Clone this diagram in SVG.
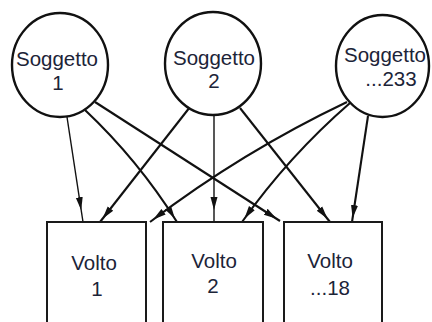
<svg xmlns="http://www.w3.org/2000/svg" width="432" height="322" viewBox="0 0 432 322">
  <style>
    .node { fill: #ffffff; stroke: #111111; stroke-width: 2.4; }
    .box { fill: #ffffff; stroke: #1a1a1a; stroke-width: 2; }
    .lbl { font-family: "Liberation Sans", "Open Sans", sans-serif; font-size: 20.5px; fill: #1c2438; text-anchor: middle; }
    .edge { fill: none; stroke: #111111; stroke-width: 2.1; marker-end: url(#ah); }
    .edgev { fill: none; stroke: #111111; stroke-width: 1.4; marker-end: url(#ahv); }
  </style>
  <defs>
    <marker id="ah" markerUnits="userSpaceOnUse" markerWidth="20" markerHeight="12" viewBox="0 0 20 12" refX="17" refY="6" orient="auto">
      <path d="M0,2.5 L13,6 L0,9.5 Z" fill="#111111"/>
    </marker>
    <marker id="ahv" markerUnits="userSpaceOnUse" markerWidth="28" markerHeight="12" viewBox="0 0 28 12" refX="25" refY="6" orient="auto">
      <path d="M0,2.5 L13,6 L0,9.5 Z" fill="#111111"/>
    </marker>
  </defs>

  <g id="connectors">
    <path class="edgev" d="M67,117 L83,222"/>
    <path class="edge" d="M85,110 Q138,160 177,222"/>
    <path class="edge" d="M95,102 L280,221"/>
    <path class="edge" d="M190,107 L100,222"/>
    <path class="edgev" d="M214,115 L214,222"/>
    <path class="edge" d="M240,108 L330,222"/>
    <path class="edge" d="M347,102 Q242,152 150,222"/>
    <path class="edge" d="M350,103 Q289,156 242,222"/>
    <path class="edge" d="M368,116 L352,222"/>
  </g>

  <g id="soggetto1">
    <ellipse class="node" cx="60" cy="65" rx="48" ry="52"/>
    <text class="lbl" x="57" y="66">Soggetto</text>
    <text class="lbl" x="58" y="90">1</text>
  </g>
  <g id="soggetto2">
    <ellipse class="node" cx="213" cy="63.5" rx="48" ry="51.5"/>
    <text class="lbl" x="214" y="65">Soggetto</text>
    <text class="lbl" x="214" y="88">2</text>
  </g>
  <g id="soggetto233">
    <ellipse class="node" cx="382.5" cy="66" rx="46.5" ry="51"/>
    <text class="lbl" x="385" y="62">Soggetto</text>
    <text class="lbl" x="391" y="86">...233</text>
  </g>

  <g id="volto1">
    <rect class="box" x="47" y="222" width="99" height="120"/>
    <text class="lbl" x="94" y="270">Volto</text>
    <text class="lbl" x="97" y="296">1</text>
  </g>
  <g id="volto2">
    <rect class="box" x="163" y="222" width="100" height="120"/>
    <text class="lbl" x="214" y="268">Volto</text>
    <text class="lbl" x="213" y="293">2</text>
  </g>
  <g id="volto18">
    <rect class="box" x="284" y="222" width="98" height="120"/>
    <text class="lbl" x="330" y="268">Volto</text>
    <text class="lbl" x="330" y="295">...18</text>
  </g>
</svg>
